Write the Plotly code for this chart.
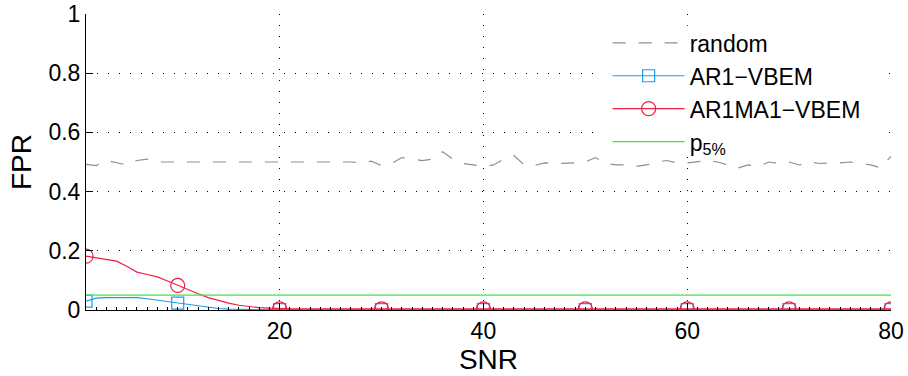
import plotly.graph_objects as go

snr = list(range(1, 81))
marker_snr = [1, 10, 20, 30, 40, 50, 60, 70, 80]

random_fpr = [0.492, 0.488, 0.505, 0.498, 0.490, 0.505, 0.510, 0.500, 0.500, 0.500,
              0.500, 0.500, 0.500, 0.500, 0.500, 0.500, 0.500, 0.500, 0.500, 0.500,
              0.500, 0.500, 0.500, 0.500, 0.500, 0.500, 0.500, 0.497, 0.503, 0.488,
              0.495, 0.515, 0.510, 0.505, 0.510, 0.535, 0.510, 0.495, 0.490, 0.485,
              0.490, 0.510, 0.522, 0.490, 0.488, 0.497, 0.495, 0.495, 0.497, 0.500,
              0.515, 0.495, 0.490, 0.490, 0.485, 0.490, 0.500, 0.505, 0.497, 0.497,
              0.500, 0.505, 0.500, 0.490, 0.480, 0.490, 0.485, 0.500, 0.495, 0.500,
              0.490, 0.500, 0.495, 0.497, 0.497, 0.500, 0.495, 0.490, 0.480, 0.520]

ar1_head = [0.030, 0.040, 0.042, 0.042, 0.042, 0.042, 0.038, 0.033, 0.028, 0.023,
            0.018, 0.013, 0.008, 0.005, 0.003, 0.002, 0.001, 0.001, 0.001, 0.001]
ar1_fpr = ar1_head + [0.001] * 60

arma_head = [0.182, 0.177, 0.172, 0.165, 0.148, 0.128, 0.120, 0.112, 0.098, 0.083,
             0.068, 0.055, 0.042, 0.032, 0.023, 0.016, 0.011, 0.008, 0.006, 0.004]
arma_fpr = arma_head + [0.004] * 60

p5_level = 0.05

ar1_marker = [ar1_fpr[s - 1] for s in marker_snr]
arma_marker = [arma_fpr[s - 1] for s in marker_snr]

GRAY = "#8f8f8f"
BLUE = "#1e9be8"
RED = "#f01e46"
GREEN = "#3ce63c"

fig = go.Figure()

fig.add_trace(go.Scatter(x=snr, y=random_fpr, mode="lines", name="random",
                         line=dict(color=GRAY, width=1.2, dash="13px,13px"),
                         showlegend=True))
fig.add_trace(go.Scatter(x=snr, y=ar1_fpr, mode="lines", showlegend=False,
                         line=dict(color=BLUE, width=1.2)))
fig.add_trace(go.Scatter(x=marker_snr, y=ar1_marker, mode="markers", showlegend=False,
                         marker=dict(symbol="square-open", size=12, color=BLUE,
                                     line=dict(width=1.2, color=BLUE))))
fig.add_trace(go.Scatter(x=snr, y=arma_fpr, mode="lines", showlegend=False,
                         line=dict(color=RED, width=1.2)))
fig.add_trace(go.Scatter(x=marker_snr, y=arma_marker, mode="markers", showlegend=False,
                         marker=dict(symbol="circle-open", size=14, color=RED,
                                     line=dict(width=1.2, color=RED))))
fig.add_trace(go.Scatter(x=[snr[0], snr[-1]], y=[p5_level, p5_level], mode="lines",
                         showlegend=False, line=dict(color=GREEN, width=1.2)))

# legend entries
fig.add_trace(go.Scatter(x=[None], y=[None], mode="lines+markers", name="AR1−VBEM",
                         line=dict(color=BLUE, width=1.2),
                         marker=dict(symbol="square-open", size=12, color=BLUE,
                                     line=dict(width=1.2, color=BLUE))))
fig.add_trace(go.Scatter(x=[None], y=[None], mode="lines+markers", name="AR1MA1−VBEM",
                         line=dict(color=RED, width=1.2),
                         marker=dict(symbol="circle-open", size=14, color=RED,
                                     line=dict(width=1.2, color=RED))))
fig.add_trace(go.Scatter(x=[None], y=[None], mode="lines", name="p<sub>5%</sub>",
                         line=dict(color=GREEN, width=1.2)))

FONT = "Liberation Sans, Arial, sans-serif"
grid = dict(showgrid=True, gridcolor="#000000", gridwidth=1, griddash="1px,10px")

fig.update_layout(
    width=908, height=376,
    margin=dict(l=86, r=17, t=14, b=66, autoexpand=False),
    paper_bgcolor="white", plot_bgcolor="white",
    font=dict(family=FONT, size=23, color="black"),
    legend=dict(x=0.648, y=0.975, xanchor="left", yanchor="top",
                bgcolor="rgba(0,0,0,0)", borderwidth=0, itemwidth=72,
                font=dict(family=FONT, size=23, color="black"),
                tracegroupgap=0),
    xaxis=dict(range=[1, 80], tickvals=[20, 40, 60, 80], ticks="inside", ticklen=7,
               tickcolor="black", showline=True, linecolor="black", linewidth=1,
               zeroline=False, automargin=False, title=dict(text="SNR", standoff=0),
               minor=dict(ticks="inside", ticklen=3, dtick=1, tick0=0, tickcolor="black",
                          showgrid=False),
               **grid),
    yaxis=dict(range=[0, 1], tickvals=[0, 0.2, 0.4, 0.6, 0.8, 1],
               ticktext=["0", "0.2", "0.4", "0.6", "0.8", "1"],
               ticks="inside", ticklen=7, tickcolor="black", automargin=False,
               showline=True, linecolor="black", linewidth=1, zeroline=False,
               title=dict(text="FPR", standoff=8), **grid),
    shapes=[dict(type="rect", xref="x", yref="y", layer="between",
                 x0=51.5, x1=79.5, y0=0.545, y1=0.96,
                 fillcolor="white", line=dict(width=0))],
)

fig.write_html("out.html")
